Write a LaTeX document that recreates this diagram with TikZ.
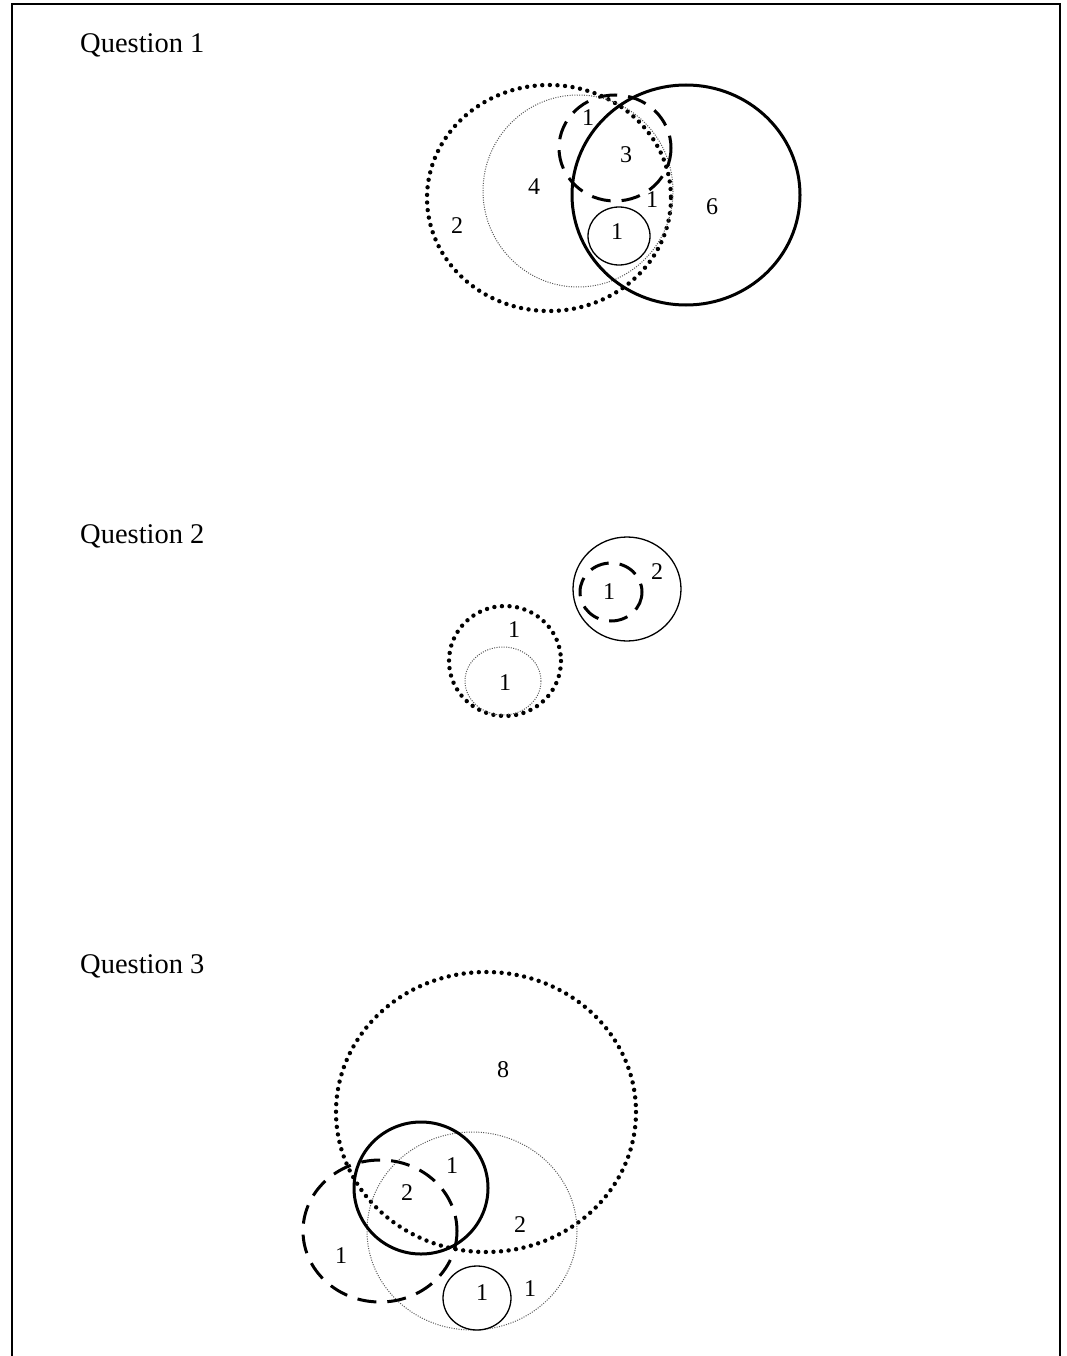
\documentclass[tikz,border=0pt]{standalone}
\usepackage{fontspec}
\setmainfont{Liberation Serif}
\begin{document}
\begin{tikzpicture}[x=1pt,y=-1pt,
  bigdot/.style={line width=4.4pt,line cap=round,dash pattern=on 0pt off 7.6pt},
  finedot/.style={line width=1pt,draw=black!65,dash pattern=on 1pt off 1.4pt},
  dashc/.style={line width=3pt,dash pattern=on 19pt off 11pt},
  thick/.style={line width=3pt},
  thinc/.style={line width=1.3pt},
  num/.style={font=\fontsize{24}{26}\selectfont,inner sep=0pt},
  ttl/.style={font=\fontsize{28.5}{31}\selectfont,inner sep=0pt,anchor=west}]
\useasboundingbox (0,0) rectangle (1066,1356);
\fill[white] (0,0) rectangle (1066,1356);
\begin{scope}
\clip (0,0) rectangle (1066,1356);
\draw[line width=2pt] (12,1370) -- (12,4) -- (1060,4) -- (1060,1370);
\end{scope}
% Question 1
\node[ttl] (q1) at (80,45) {Question 1};
\draw[bigdot] (549,198) ellipse (122 and 113);
\draw[finedot] (578,191) ellipse (95 and 96);
\draw[dashc] (615,148) ellipse (56 and 53);
\draw[thick] (686,195) ellipse (114 and 110);
\draw[thinc] (619,236) ellipse (31 and 29);
\node[num] (a1) at (588,118) {1};
\node[num] (a3) at (626,155) {3};
\node[num] (a4) at (534,187) {4};
\node[num] (a2) at (457,226) {2};
\node[num] (a5) at (652,200) {1};
\node[num] (a6) at (712,207) {6};
\node[num] (a7) at (617,232) {1};
% Question 2
\node[ttl] (q2) at (80,536) {Question 2};
\draw[thinc] (627,589) ellipse (54 and 52);
\draw[dashc] (611,592) ellipse (31 and 29);
\draw[bigdot] (505,661) ellipse (56 and 55);
\draw[finedot] (503,681) ellipse (38 and 34);
\node[num] (b1) at (657,572) {2};
\node[num] (b2) at (609,592) {1};
\node[num] (b3) at (514,630) {1};
\node[num] (b4) at (505,683) {1};
% Question 3
\node[ttl] (q3) at (80,966) {Question 3};
\draw[bigdot] (486,1112) ellipse (150 and 140);
\draw[finedot] (472,1231) ellipse (105 and 99);
\draw[dashc] (380,1231) ellipse (77 and 71);
\draw[thick] (421,1188) ellipse (67 and 66);
\draw[thinc] (477,1298) ellipse (34 and 32);
\node[num] (c1) at (503,1070) {8};
\node[num] (c2) at (452,1166) {1};
\node[num] (c3) at (407,1193) {2};
\node[num] (c4) at (520,1225) {2};
\node[num] (c5) at (341,1256) {1};
\node[num] (c6) at (482,1293) {1};
\node[num] (c7) at (530,1289) {1};
\end{tikzpicture}
\end{document}
